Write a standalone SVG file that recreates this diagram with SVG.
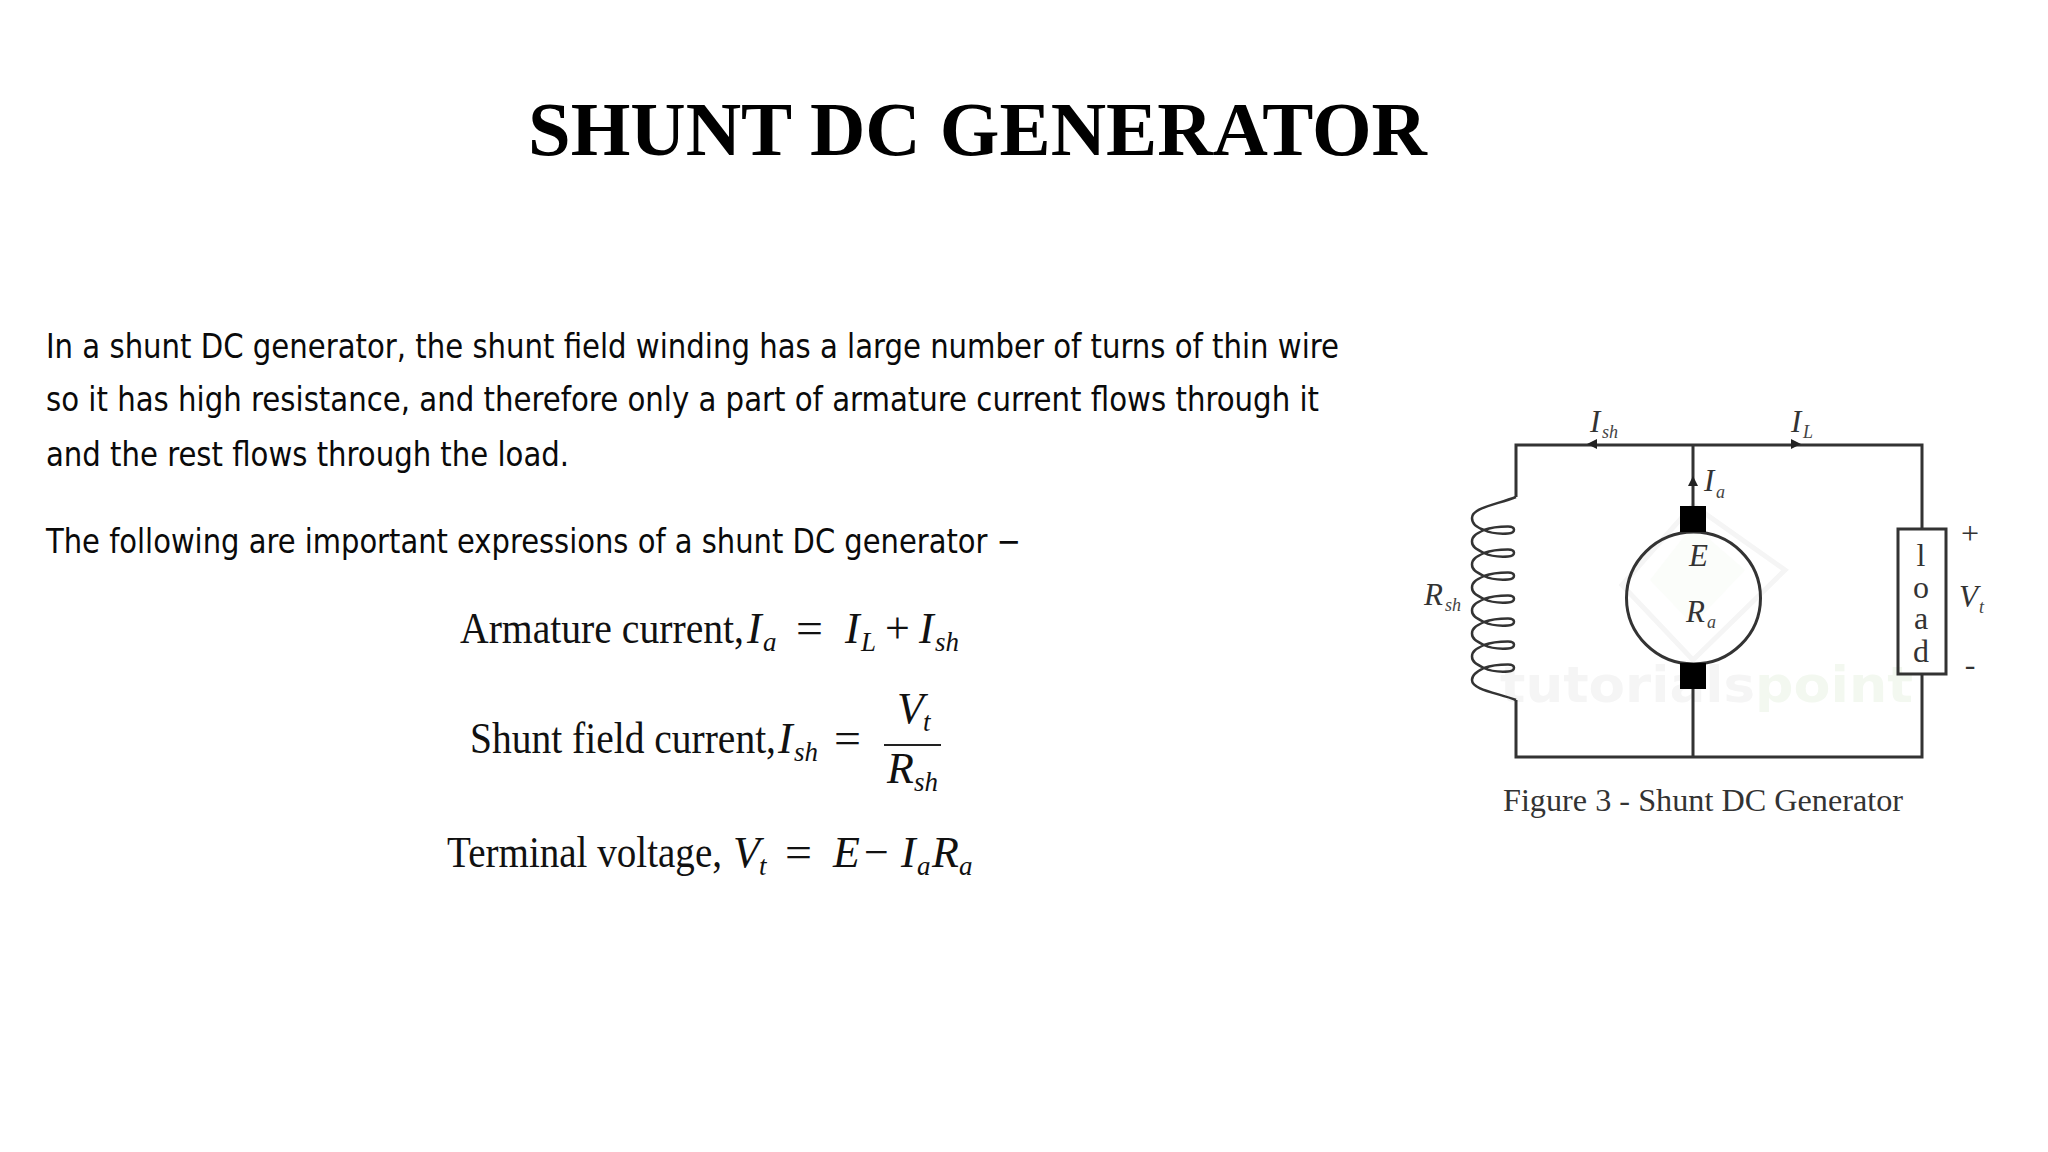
<svg xmlns="http://www.w3.org/2000/svg" width="2048" height="1152" viewBox="0 0 2048 1152">
<style>
.title{font:bold 76px "Liberation Serif",serif;fill:#000}
.body{font:34px "DejaVu Sans Condensed","DejaVu Sans",sans-serif;fill:#0a0a0a}
.m{font:44px "Liberation Serif",serif;fill:#111}
.mi{font:italic 44px "Liberation Serif",serif;fill:#111}
.ms{font:italic 27px "Liberation Serif",serif;fill:#111}
.c{font:italic 31px "Liberation Serif",serif;fill:#333}
.cs{font:italic 18px "Liberation Serif",serif;fill:#444}
.l{font:32px "Liberation Serif",serif;fill:#333;text-anchor:middle}
.cap{font:32px "Liberation Serif",serif;fill:#333}
.w{fill:none;stroke:#333;stroke-width:3}
.a{fill:#222}
.wm{font:bold 50px "DejaVu Sans",sans-serif}
</style>
<rect width="2048" height="1152" fill="#fff"/>
<g id="title"><text class="title" x="528" y="155" textLength="899" lengthAdjust="spacingAndGlyphs">SHUNT DC GENERATOR</text></g>
<g id="paragraphs">
<text class="body" x="46" y="358" textLength="1293" lengthAdjust="spacingAndGlyphs">In a shunt DC generator, the shunt field winding has a large number of turns of thin wire</text>
<text class="body" x="46" y="411" textLength="1273" lengthAdjust="spacingAndGlyphs">so it has high resistance, and therefore only a part of armature current flows through it</text>
<text class="body" x="46" y="466" textLength="523" lengthAdjust="spacingAndGlyphs">and the rest flows through the load.</text>
<text class="body" x="46" y="553" textLength="975" lengthAdjust="spacingAndGlyphs">The following are important expressions of a shunt DC generator −</text>
</g>
<g id="formula-armature">
<text class="m" x="460" y="643" textLength="284" lengthAdjust="spacingAndGlyphs">Armature current,</text>
<text class="mi" x="747" y="643">I</text><text class="ms" x="763" y="651">a</text>
<text class="m" x="796" y="643" textLength="27" lengthAdjust="spacingAndGlyphs">=</text>
<text class="mi" x="845" y="643">I</text><text class="ms" x="861" y="651">L</text>
<text class="m" x="885" y="643">+</text>
<text class="mi" x="919" y="643">I</text><text class="ms" x="935" y="651">sh</text>
</g>
<g id="formula-shunt">
<text class="m" x="470" y="753" textLength="306" lengthAdjust="spacingAndGlyphs">Shunt field current,</text>
<text class="mi" x="778" y="753">I</text><text class="ms" x="794" y="761">sh</text>
<text class="m" x="834" y="753" textLength="27" lengthAdjust="spacingAndGlyphs">=</text>
<text class="mi" x="897" y="723">V</text><text class="ms" x="923" y="731">t</text>
<rect x="884" y="744" width="57" height="2" fill="#222"/>
<text class="mi" x="887" y="783">R</text><text class="ms" x="914" y="791">sh</text>
</g>
<g id="formula-terminal">
<text class="m" x="447" y="867" textLength="275" lengthAdjust="spacingAndGlyphs">Terminal voltage,</text>
<text class="mi" x="733" y="867">V</text><text class="ms" x="759" y="875">t</text>
<text class="m" x="785" y="867" textLength="27" lengthAdjust="spacingAndGlyphs">=</text>
<text class="mi" x="833" y="867">E</text>
<text class="m" x="864" y="867">−</text>
<text class="mi" x="901" y="867">I</text><text class="ms" x="917" y="875">a</text>
<text class="mi" x="932" y="867">R</text><text class="ms" x="959" y="875">a</text>
</g>
<g id="watermark">
<path d="M1693 505L1785 570L1693 660L1622 585Z" fill="none" stroke="#f5f5f5" stroke-width="5"/>
<path d="M1693 525L1745 570L1693 625L1650 580Z" fill="#fbfdfa"/>
<text class="wm" x="1500" y="702" fill="#f5f5f5" textLength="255" lengthAdjust="spacingAndGlyphs">tutorials</text>
<text class="wm" x="1755" y="702" fill="#f3f8f0" textLength="158" lengthAdjust="spacingAndGlyphs">point</text>
</g>
<g id="connectors">
<path class="w" d="M1516 497V445H1922V529"/>
<path class="w" d="M1922 674V757H1516V700"/>
<path class="w" d="M1693 445V506M1693 689V757"/>
<path class="a" d="M1587 444L1597 439V449Z"/>
<path class="a" d="M1801 444L1791 439V449Z"/>
<path class="a" d="M1693 476L1688 486H1698Z"/>
</g>
<g id="shunt-field">
<path fill="none" stroke="#333" stroke-width="2.5" d="M1516 497C1495 505 1472 508 1472 518C1472 524 1476 527 1484 530C1492 534 1500 534 1508 533.500C1516 533 1516 526.500 1508 526.500C1500 526.500 1492 527 1484 530C1476 534 1472 536 1472 541.500C1472 547 1476 549 1484 553C1492 557 1500 557 1508 556.500C1516 556 1516 549.500 1508 549.500C1500 549.500 1492 550 1484 553C1476 557 1472 559 1472 564.500C1472 570 1476 572 1484 576C1492 580 1500 580 1508 579.500C1516 579 1516 572.500 1508 572.500C1500 572.500 1492 573 1484 576C1476 580 1472 582 1472 587.500C1472 593 1476 595 1484 599C1492 603 1500 603 1508 602.500C1516 602 1516 595.500 1508 595.500C1500 595.500 1492 596 1484 599C1476 603 1472 605 1472 610.500C1472 616 1476 618 1484 622C1492 626 1500 626 1508 625.500C1516 625 1516 618.500 1508 618.500C1500 618.500 1492 619 1484 622C1476 626 1472 628 1472 633.500C1472 639 1476 641 1484 645C1492 649 1500 649 1508 648.500C1516 648 1516 641.500 1508 641.500C1500 641.500 1492 642 1484 645C1476 649 1472 651 1472 656.500C1472 662 1476 664 1484 668C1492 672 1500 672 1508 671.500C1516 671 1516 664.500 1508 664.500C1500 664.500 1492 665 1484 668C1476 672 1472 675 1472 680C1472 690 1498 693 1516 700"/>
<text class="c" x="1424" y="605">R</text><text class="cs" x="1445" y="611">sh</text>
</g>
<g id="armature">
<ellipse cx="1693.500" cy="598" rx="67" ry="66" fill="none" stroke="#333" stroke-width="3"/>
<rect x="1680" y="506" width="26" height="26" fill="#000"/>
<rect x="1680" y="663" width="26" height="26" fill="#000"/>
<text class="c" x="1689" y="566">E</text>
<text class="c" x="1686" y="622">R</text><text class="cs" x="1707" y="628">a</text>
</g>
<g id="load">
<rect x="1898" y="529" width="48" height="145" fill="none" stroke="#333" stroke-width="3"/>
<text class="l" x="1921" y="566">l</text>
<text class="l" x="1921" y="598">o</text>
<text class="l" x="1921" y="629">a</text>
<text class="l" x="1921" y="662">d</text>
<text class="l" x="1970" y="544">+</text>
<text class="l" x="1970" y="675">-</text>
<text class="c" x="1959" y="607">V</text><text class="cs" x="1979" y="613">t</text>
</g>
<g id="current-labels">
<text class="c" x="1590" y="432">I</text><text class="cs" x="1602" y="438">sh</text>
<text class="c" x="1791" y="432">I</text><text class="cs" x="1803" y="438">L</text>
<text class="c" x="1704" y="491">I</text><text class="cs" x="1716" y="498">a</text>
</g>
<g id="caption"><text class="cap" x="1503" y="811" textLength="400" lengthAdjust="spacingAndGlyphs">Figure 3 - Shunt DC Generator</text></g>
</svg>
